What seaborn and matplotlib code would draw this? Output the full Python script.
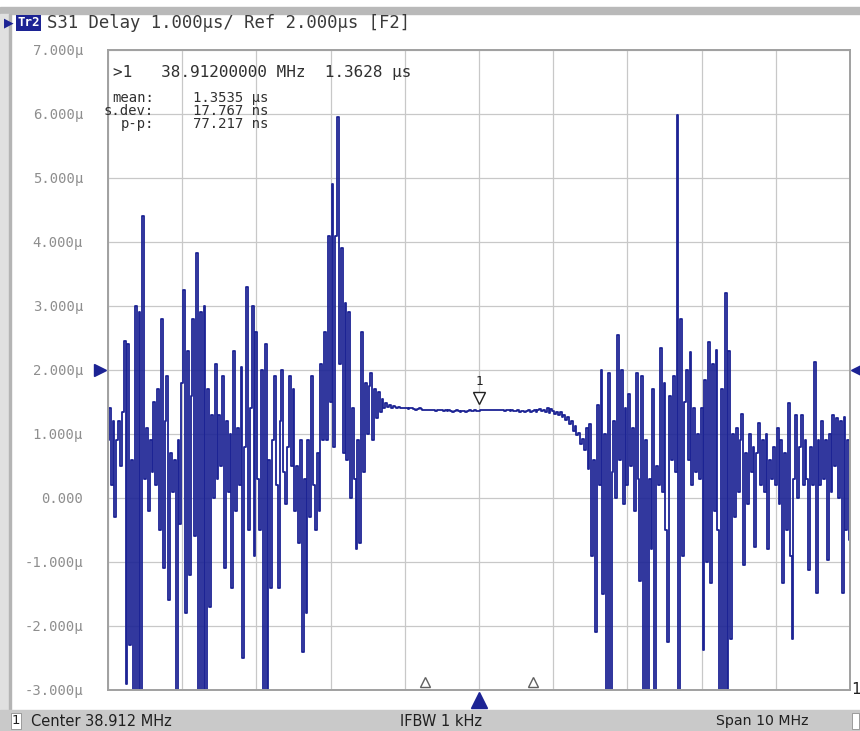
import numpy as np
import pandas as pd
import matplotlib
matplotlib.use("Agg")
import matplotlib.pyplot as plt
from matplotlib.patches import Rectangle
from matplotlib.transforms import blended_transform_factory
import seaborn as sns

W, H = 860, 731

CENTER_MHZ = 38.912
SPAN_MHZ = 10.0
REF_LEVEL = 2.0

# S31 group delay trace in microseconds, left to right
delay_left = [
    0.9, 1.4, 0.2, 1.2, -0.3, 0.9, 1.2, 0.5, 1.35, 2.45,
    -2.9, 2.4, -2.3, 0.6, -3.5, 3.0, -3.5, 2.9, -3.5, 4.4,
    0.3, 1.1, -0.2, 0.9, 0.4, 1.5, 0.2, 1.7, -0.5, 2.8,
    -1.1, 1.2, 1.9, -1.6, 0.7, 0.1, 0.6, -3.5, 0.9, -0.4,
    1.8, 3.25, -1.8, 2.3, -1.2, 1.6, 2.8, -0.6, 3.83, -3.5,
    2.9, -3.5, 3.0, -3.5, 1.7, -1.7, 1.3, 0.0, 2.1, 0.3,
    1.3, 0.5, 1.9, -1.1, 1.2, 0.1, 1.0, -1.4, 2.3, -0.2,
    1.1, 0.2, 2.05, -2.5, 0.8, 3.3, -0.5, 1.4, 3.0, -0.9,
    2.6, 0.3, -0.5, 2.0, -3.5, 2.4, -3.5, 0.6, -1.4, 0.9,
    1.9, 0.2, -1.4, 1.2, 2.0, 0.4, -0.1, 0.8, 1.9, 0.5,
    1.7, -0.2, 0.5, -0.7, 0.9, -2.4, 0.3, -1.8, 0.9, -0.3,
    1.9, 0.2, -0.5, 0.7, -0.2, 2.1, 0.9, 2.6, 0.9, 4.1,
    1.5, 4.9, 0.8, 4.1, 5.95, 2.1, 3.9, 0.7, 3.05, 0.6,
    2.9, 0.0, 1.4, 0.3, -0.8, 0.9, -0.7, 2.6, 0.4, 1.8,
    1.0, 1.75, 1.95,
]
delay_flat = [
    0.9, 1.7, 1.25, 1.65, 1.35, 1.55, 1.40,
    1.48, 1.42, 1.45, 1.41, 1.43, 1.42, 1.41, 1.42,
    1.41, 1.40, 1.41, 1.40, 1.39, 1.40, 1.40, 1.39, 1.38, 1.39,
    1.40, 1.39, 1.38, 1.37, 1.38, 1.38, 1.37, 1.38, 1.37, 1.36,
    1.37, 1.38, 1.37, 1.36, 1.37, 1.36, 1.37, 1.36, 1.35, 1.36,
    1.37, 1.36, 1.35, 1.36, 1.36, 1.35, 1.36, 1.37, 1.36, 1.36,
    1.37, 1.36,
    1.3628,
    1.37, 1.37, 1.38, 1.37, 1.37, 1.38, 1.37, 1.38, 1.38, 1.37,
    1.38, 1.37, 1.37, 1.36, 1.37, 1.37, 1.36, 1.37, 1.36, 1.36,
    1.37, 1.35, 1.36, 1.36, 1.35, 1.36, 1.37, 1.35, 1.36, 1.38,
    1.35, 1.37, 1.39, 1.36, 1.38,
    1.34, 1.40, 1.33, 1.39, 1.36, 1.31, 1.35, 1.30, 1.34, 1.27,
    1.30, 1.22, 1.27, 1.15, 1.21,
]
delay_right = [
    1.05, 1.12, 0.98, 1.02, 0.85, 0.92, 0.75, 1.10, 0.45, 1.15,
    -0.9, 0.6, -2.1, 1.45, 0.2, 2.0, -1.5, 1.0, -3.5, 1.96,
    -3.5, 0.4, 1.2, 0.0, 2.55, 0.6, 2.0, -0.1, 1.4, 0.2,
    1.63, 0.5, 1.1, -0.2, 1.96, 0.3, -1.3, 1.9, -3.5, 0.9,
    -3.5, 0.3, -0.8, 1.7, -3.5, 0.5, 0.2, 2.34, 0.1, 1.8,
    -0.5, -2.25, 1.6, 0.6, 1.9, 0.4, 5.98, -3.5, 2.8, -0.9,
    1.5, 2.0, 0.6, 2.28, 0.2, 1.4, 0.4, 1.0, 0.3, 1.4,
    -2.37, 1.84, -1.0, 2.44, -1.33, 2.1, -0.2, 2.31, -0.5, -3.5,
    1.7, -3.5, 3.2, -3.5, 2.3, -2.2, 1.0, -0.3, 1.1, 0.1,
    0.9, 1.32, -1.05, 0.7, -0.1, 1.0, 0.4, 0.8, -0.76, 0.7,
    1.17, 0.2, 0.9, 0.1, 1.0, -0.8, 0.6, 0.3, 0.8, 0.2,
    1.09, -0.1, 0.9, -1.33, 0.7, -0.5, 1.48, -0.9, -2.2, 0.3,
    1.3, 0.0, 0.8, 1.3, 0.2, 0.9, 0.3, -1.13, 0.8, 0.2,
    2.13, -1.49, 0.9, 0.2, 1.2, 0.3, 0.9, -0.97, 1.0, 0.1,
    1.3, 0.5, 1.25, 0.0, 1.2, -1.49, 1.27, -0.5, 0.9, -0.66,
]

y_ticks = [7, 6, 5, 4, 3, 2, 1, 0, -1, -2, -3]
y_tick_labels = ["7.000µ", "6.000µ", "5.000µ", "4.000µ", "3.000µ", "2.000µ",
                 "1.000µ", "0.000", "-1.000µ", "-2.000µ", "-3.000µ"]

marker_freq = 38.912
marker_value = 1.3628
stat_limits = [38.18, 39.64]

title_text = "S31 Delay 1.000µs/ Ref 2.000µs [F2]"
marker_line = ">1   38.91200000 MHz  1.3628 µs"
stat_names = ["mean:", "s.dev:", "p-p:"]
stat_values = ["1.3535 µs", "17.767 ns", "77.217 ns"]
status_center = "Center 38.912 MHz"
status_ifbw = "IFBW 1 kHz"
status_span = "Span 10 MHz"

TRACE = "#1c2394"
MONO = "DejaVu Sans Mono"


def fx(px):
    return px / W


def fy(py):
    return 1 - py / H


def main():
    delay = delay_left + delay_flat + delay_right
    f_start = CENTER_MHZ - SPAN_MHZ / 2
    f_stop = CENTER_MHZ + SPAN_MHZ / 2
    freq = np.linspace(f_start, f_stop, len(delay))
    df = pd.DataFrame({"freq": freq, "delay": delay})

    sns.set_style("white")
    fig = plt.figure(figsize=(W / 100, H / 100), dpi=100)

    # window chrome
    fig.add_artist(Rectangle((0, fy(14)), 1, 7 / H, transform=fig.transFigure,
                             color="#b9b9b9", zorder=0))
    fig.add_artist(Rectangle((0, fy(710)), fx(9), 696 / H, transform=fig.transFigure,
                             color="#e0e0e0", zorder=0))
    fig.add_artist(Rectangle((fx(9), fy(710)), fx(2), 696 / H, transform=fig.transFigure,
                             color="#b4b4b4", zorder=0))
    fig.add_artist(Rectangle((0, 0), 1, 21 / H, transform=fig.transFigure,
                             color="#c9c9c9", zorder=0))
    fig.add_artist(Rectangle((fx(11), fy(729)), fx(10), 16 / H, transform=fig.transFigure,
                             fc="white", ec="#909090", lw=0.6, zorder=1))
    fig.add_artist(Rectangle((fx(852), fy(729)), fx(7), 16 / H, transform=fig.transFigure,
                             fc="white", ec="#909090", lw=0.6, zorder=1))

    ax = fig.add_axes([fx(108), fy(690), (850 - 108) / W, 640 / H])
    sns.lineplot(data=df, x="freq", y="delay", ax=ax, color=TRACE, lw=1.3,
                 estimator=None, sort=False, drawstyle="steps-mid")

    ax.set_xlim(f_start, f_stop)
    ax.set_ylim(-3, 7)
    ax.set_xticks(np.arange(11) * 1.0 + f_start)
    ax.set_xticklabels([])
    ax.set_yticks(y_ticks)
    ax.set_yticklabels(y_tick_labels, family=MONO, fontsize=10, color="#8e8e8e")
    ax.tick_params(length=0, pad=18)
    ax.set_xlabel("")
    ax.set_ylabel("")
    ax.grid(True, color="#c8c8c8", lw=0.9)
    ax.set_axisbelow(True)
    for sp in ax.spines.values():
        sp.set_color("#a0a0a0")
        sp.set_linewidth(1.4)

    # reference level arrows
    tr_y = blended_transform_factory(ax.transAxes, ax.transData)
    ax.plot([-0.011], [REF_LEVEL], marker=">", ms=9, color=TRACE, transform=tr_y, clip_on=False)
    ax.plot([1.009], [REF_LEVEL], marker="<", ms=9, color=TRACE, transform=tr_y, clip_on=False)

    # marker / statistics range indicators along the bottom
    tr_x = blended_transform_factory(ax.transData, ax.transAxes)
    ax.plot([marker_freq], [-0.016], marker="^", ms=12, color=TRACE, transform=tr_x, clip_on=False)
    ax.plot(stat_limits, [0.012, 0.012], ls="none", marker="^", mfc="none", mec="#606060",
            ms=7, mew=1.0, transform=tr_x, clip_on=False)
    ax.text(1.002, 0.0, "1", transform=ax.transAxes, fontsize=11, family=MONO,
            va="center", ha="left", color="#202020", clip_on=False)

    # marker 1 on the trace
    ax.plot([marker_freq], [marker_value + 0.2], marker="v", ms=8, mfc="white",
            mec="#202020", mew=1.0)
    ax.text(marker_freq, marker_value + 0.45, "1", ha="center", va="center",
            fontsize=9, family=MONO, color="#202020")

    # title bar
    fig.text(fx(4), fy(23), "▶", color=TRACE, fontsize=9, va="center", ha="left")
    fig.text(fx(17), fy(23), "Tr2", color="white", fontsize=9, family=MONO, va="center",
             ha="left", fontweight="bold",
             bbox=dict(boxstyle="square,pad=0.12", fc=TRACE, ec="none"))
    fig.text(fx(47), fy(23), title_text, color="#3a3a3a", fontsize=12.4, family=MONO,
             va="center", ha="left")

    # marker readout
    fig.text(fx(113), fy(73), marker_line, color="#303030", fontsize=11.5, family=MONO,
             va="center", ha="left")
    fig.text(fx(154), fy(111), "\n".join(stat_names), color="#303030", fontsize=10,
             family=MONO, va="center", ha="right", multialignment="right", linespacing=0.95)
    fig.text(fx(193), fy(111), "\n".join(stat_values), color="#303030", fontsize=10,
             family=MONO, va="center", ha="left", linespacing=0.95)

    # status bar
    fig.text(fx(16), fy(721), "1", fontsize=9.5, va="center", ha="center", color="#202020")
    fig.text(fx(31), fy(721), status_center, fontsize=10.5, va="center", ha="left", color="#202020")
    fig.text(fx(400), fy(721), status_ifbw, fontsize=10.5, va="center", ha="left", color="#202020")
    fig.text(fx(716), fy(721), status_span, fontsize=10.2, va="center", ha="left", color="#202020")

    fig.savefig("out.png", dpi=100)


if __name__ == "__main__":
    main()
